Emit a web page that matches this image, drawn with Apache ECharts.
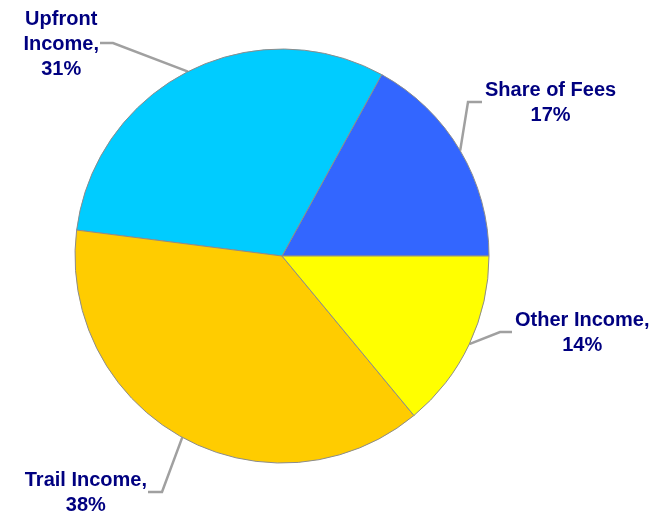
<!DOCTYPE html>
<html><head><meta charset="utf-8">
<script src="https://cdn.jsdelivr.net/npm/echarts@6/dist/echarts.min.js"></script>
<style>html,body{margin:0;padding:0;background:#fff}#c{width:664px;height:524px}</style>
</head><body><div id="c"></div>
<script>
// ---- data ----
const categories = ['Share of Fees', 'Upfront Income', 'Trail Income', 'Other Income'];
const values = [17, 31, 38, 14];
const labelNames = ['Share of Fees', 'Upfront\nIncome,', 'Trail Income,', 'Other Income,'];
const colors = ['#3366FF', '#00CCFF', '#FFCC00', '#FFFF00'];

// ---- label line layout (annotation geometry, not data) ----
const elbows = [[468, 102], [113, 43], [162, 492], [500, 332]];
const ends = [[482, 102], [100, 43], [148, 492], [512, 332]];
const CX = 282, CY = 256, R = 207;

const total = values.reduce((a, b) => a + b, 0);
function edgePoint(i) {
  let before = 0;
  for (let k = 0; k < i; k++) before += values[k];
  const mid = (before + values[i] / 2) / total * 2 * Math.PI;
  return [CX + R * Math.cos(mid), CY - R * Math.sin(mid)];
}

const chart = echarts.init(document.getElementById('c'), null, { renderer: 'canvas' });
chart.setOption({
  animation: false,
  backgroundColor: '#ffffff',
  series: [{
    type: 'pie',
    center: [CX, CY],
    radius: R,
    startAngle: 0,
    clockwise: false,
    avoidLabelOverlap: false,
    emphasis: { disabled: true },
    data: categories.map((c, i) => ({ name: c, value: values[i], itemStyle: { color: colors[i] } })),
    itemStyle: { borderColor: '#8c8c8c', borderWidth: 1 },
    label: {
      show: true,
      position: 'outside',
      formatter: p => labelNames[p.dataIndex] + '\n' + values[p.dataIndex] + '%',
      color: '#000080',
      fontFamily: 'Liberation Sans, Arial, sans-serif',
      fontWeight: 'bold',
      fontSize: 20,
      lineHeight: 25,
      align: 'center'
    },
    labelLine: {
      show: true,
      smooth: false,
      lineStyle: { color: '#a0a0a0', width: 2.5 }
    },
    labelLayout: function (p) {
      const i = p.dataIndex;
      const e = ends[i], b = elbows[i];
      const w = p.labelRect.width;
      const right = e[0] > b[0];
      const x = right ? e[0] + 3 + w / 2 : e[0] - 1 - w / 2;
      return {
        x: x, y: e[1] + 1, align: 'center', verticalAlign: 'middle',
        labelLinePoints: [edgePoint(i), b, e]
      };
    }
  }]
});
</script></body></html>
